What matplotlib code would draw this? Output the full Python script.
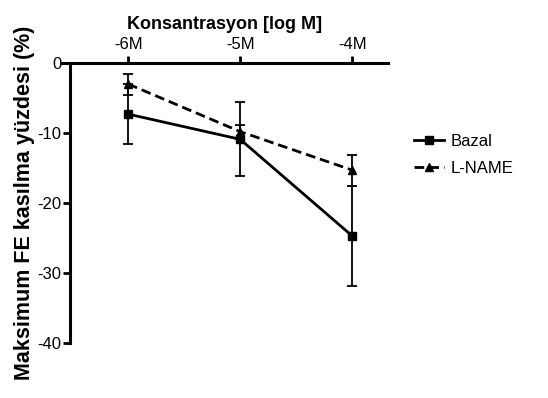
import matplotlib
matplotlib.use("Agg")
import matplotlib.pyplot as plt
from matplotlib.lines import Line2D
import numpy as np

plt.rcParams['font.family'] = ['Liberation Sans Narrow', 'Liberation Sans', 'DejaVu Sans']

log_conc = [-6, -5, -4]
xtick_labels = ['-6M', '-5M', '-4M']
bazal = [-7.3, -10.9, -24.7]
bazal_err = [4.3, 5.3, 7.2]
lname = [-3.0, -9.8, -15.3]
lname_err = [1.5, 1.0, 2.2]
yticks = [0, -10, -20, -30, -40]

fig = plt.figure(figsize=(5.48, 3.98), dpi=100)
ax = fig.add_axes([62/548, 55/398, 326/548, 280/398])

dash = (0, (3.5, 1.8))
ax.errorbar(log_conc, bazal, yerr=bazal_err, color='black', lw=2.0, marker='s',
            markersize=6, elinewidth=1.3, capsize=3.5, capthick=1.3,
            clip_on=False, zorder=3)
ax.errorbar(log_conc, lname, yerr=lname_err, color='black', lw=2.0, ls=dash,
            marker='^', markersize=6, elinewidth=1.3, capsize=3.5, capthick=1.3,
            clip_on=False, zorder=3)

ax.set_xlim(-6.59, -3.68)
ax.set_ylim(-40, 0)
for s in ['bottom', 'right']:
    ax.spines[s].set_visible(False)
ax.spines['top'].set_linewidth(2.2)
ax.spines['left'].set_linewidth(2.2)
ax.spines['left'].set_position(('data', -6.52))

ax.xaxis.tick_top()
ax.xaxis.set_label_position('top')
ax.set_xticks(log_conc)
ax.set_xticklabels(xtick_labels, fontsize=12)
ax.tick_params(axis='x', direction='out', length=5, width=2, pad=3)
ax.set_yticks(yticks)
ax.set_yticklabels([str(v) for v in yticks], fontsize=12)
ax.tick_params(axis='y', direction='out', length=5, width=2, pad=1)

ax.set_xlabel('Konsantrasyon [log M]', fontsize=13, fontweight='bold', labelpad=6)
ax.set_ylabel('Maksimum FE kasılma yüzdesi (%)', fontsize=15.5, fontweight='bold',
              family=['Liberation Sans', 'DejaVu Sans'])
ax.yaxis.set_label_coords(-0.082, 0.5)

handles = [Line2D([], [], color='black', lw=2.0, marker='s', markersize=6),
           Line2D([], [], color='black', lw=2.0, ls=dash, marker='^', markersize=6)]
leg = ax.legend(handles, ['Bazal', 'L-NAME'], loc='upper left',
                bbox_to_anchor=(1.06, 0.77), frameon=False,
                fontsize=12, handlelength=1.8, handletextpad=0.4, labelspacing=0.7,
                borderaxespad=0)

fig.savefig('out.png', dpi=100)
